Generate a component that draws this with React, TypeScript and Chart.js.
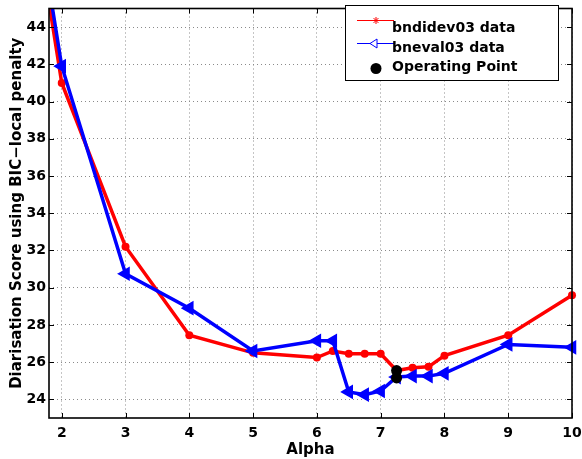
import React, { useEffect, useRef } from 'react';
import { Chart, registerables } from 'chart.js';

Chart.register(...registerables);

const seriesLabels = ['bndidev03 data', 'bneval03 data', 'Operating Point'];

const devAlpha = [1.5, 2, 3, 4, 5, 6, 6.25, 6.5, 6.75, 7, 7.25, 7.5, 7.75, 8, 9, 10];
const devScore = [51.8, 41.0, 32.2, 27.45, 26.5, 26.25, 26.6, 26.45, 26.45, 26.45, 25.55, 25.7, 25.75, 26.35, 27.45, 29.6];

const evalAlpha = [1.5, 2, 3, 4, 5, 6, 6.25, 6.5, 6.75, 7, 7.25, 7.5, 7.75, 8, 9, 10];
const evalScore = [52.6, 41.9, 30.75, 28.9, 26.6, 27.15, 27.15, 24.4, 24.25, 24.45, 25.2, 25.25, 25.25, 25.4, 26.95, 26.8];

const opAlpha = [7.25, 7.25];
const opScore = [25.55, 25.15];

const xTickValues = [2, 3, 4, 5, 6, 7, 8, 9, 10];
const yTickValues = [24, 26, 28, 30, 32, 34, 36, 38, 40, 42, 44];

const xTitle = 'Alpha';
const yTitle = 'Diarisation Score using BIC\u2212local penalty';

const FONT = 'DejaVu Sans';

const toPoints = (xs: number[], ys: number[]) => xs.map((x, i) => ({ x, y: ys[i] }));

export default function App() {
  const ref = useRef<HTMLCanvasElement>(null);

  useEffect(() => {
    if (!ref.current) return;

    const framePlugin = {
      id: 'frame',
      afterDatasetsDraw(chart: any) {
        const { ctx, chartArea: a, scales } = chart;
        ctx.save();
        ctx.strokeStyle = '#000';
        ctx.lineWidth = 1;
        ctx.beginPath();
        for (const v of xTickValues) {
          const px = Math.round(scales.x.getPixelForValue(v)) + 0.5;
          ctx.moveTo(px, a.bottom);
          ctx.lineTo(px, a.bottom - 5);
          ctx.moveTo(px, a.top);
          ctx.lineTo(px, a.top + 5);
        }
        for (const v of yTickValues) {
          const py = Math.round(scales.y.getPixelForValue(v)) + 0.5;
          ctx.moveTo(a.left, py);
          ctx.lineTo(a.left + 5, py);
          ctx.moveTo(a.right, py);
          ctx.lineTo(a.right - 5, py);
        }
        ctx.stroke();
        ctx.lineWidth = 1.6;
        ctx.strokeRect(a.left, a.top, a.right - a.left, a.bottom - a.top);
        ctx.restore();
      },
    };

    const legendPlugin = {
      id: 'matlabLegend',
      afterDraw(chart: any) {
        const { ctx } = chart;
        const ds = chart.data.datasets;
        const bx = 345, by = 5, bw = 213, bh = 75;
        ctx.save();
        ctx.fillStyle = '#fff';
        ctx.fillRect(bx, by, bw, bh);
        ctx.strokeStyle = '#000';
        ctx.lineWidth = 1;
        ctx.strokeRect(bx + 0.5, by + 0.5, bw, bh);

        ctx.font = `bold 14px "${FONT}"`;
        ctx.fillStyle = '#000';
        ctx.textBaseline = 'alphabetic';
        ctx.textAlign = 'left';
        const textX = 392;

        // row 1: red line with asterisk
        ctx.strokeStyle = '#ff0000';
        ctx.lineWidth = 1;
        ctx.beginPath();
        ctx.moveTo(357, 20.5);
        ctx.lineTo(394, 20.5);
        const cx1 = 376, cy1 = 20.5, r = 3.5;
        ctx.moveTo(cx1 - r, cy1); ctx.lineTo(cx1 + r, cy1);
        ctx.moveTo(cx1, cy1 - r); ctx.lineTo(cx1, cy1 + r);
        ctx.moveTo(cx1 - r * 0.7, cy1 - r * 0.7); ctx.lineTo(cx1 + r * 0.7, cy1 + r * 0.7);
        ctx.moveTo(cx1 - r * 0.7, cy1 + r * 0.7); ctx.lineTo(cx1 + r * 0.7, cy1 - r * 0.7);
        ctx.stroke();
        ctx.fillStyle = '#000';
        ctx.fillText(ds[0].label, textX, 31.5);

        // row 2: blue line with left triangle
        ctx.strokeStyle = '#0000ff';
        ctx.beginPath();
        ctx.moveTo(357, 43.5);
        ctx.lineTo(394, 43.5);
        ctx.stroke();
        ctx.beginPath();
        ctx.moveTo(370, 43.5);
        ctx.lineTo(377, 39);
        ctx.lineTo(377, 48);
        ctx.closePath();
        ctx.fillStyle = '#fff';
        ctx.fill();
        ctx.stroke();
        ctx.fillStyle = '#000';
        ctx.fillText(ds[1].label, textX, 52);

        // row 3: black dot
        ctx.beginPath();
        ctx.arc(376, 68.5, 5.5, 0, Math.PI * 2);
        ctx.fill();
        ctx.fillText(ds[2].label, textX, 71);
        ctx.restore();
      },
    };

    const tickFont = { family: FONT, size: 14, weight: 'bold' as const };
    const titleFont = { family: FONT, size: 15, weight: 'bold' as const };

    const chart = new Chart(ref.current, {
      type: 'line',
      data: {
        datasets: [
          {
            label: seriesLabels[0],
            data: toPoints(devAlpha, devScore),
            borderColor: '#ff0000',
            backgroundColor: '#ff0000',
            borderWidth: 3.5,
            pointRadius: 4,
            pointStyle: 'circle',
            pointBorderWidth: 0,
            order: 3,
            clip: { left: 0, top: 0, right: 10, bottom: 0 },
          },
          {
            label: seriesLabels[1],
            data: toPoints(evalAlpha, evalScore),
            borderColor: '#0000ff',
            backgroundColor: '#0000ff',
            borderWidth: 3.5,
            pointRadius: 6.5,
            pointStyle: 'triangle',
            pointRotation: -90,
            pointBorderWidth: 2,
            order: 2,
            clip: { left: 0, top: 0, right: 10, bottom: 0 },
          },
          {
            label: seriesLabels[2],
            data: toPoints(opAlpha, opScore),
            borderColor: '#000',
            backgroundColor: '#000',
            showLine: false,
            pointRadius: 5.5,
            pointBorderWidth: 0,
            order: 1,
          },
        ] as any,
      },
      options: {
        responsive: false,
        animation: false,
        parsing: false as any,
        layout: { padding: { top: 5, right: 10, left: 0, bottom: 0 } },
        plugins: {
          legend: { display: false },
          tooltip: { enabled: false },
        },
        scales: {
          x: {
            type: 'linear',
            min: 1.8,
            max: 10,
            afterBuildTicks: (s: any) => {
              s.ticks = xTickValues.map((v) => ({ value: v }));
            },
            afterFit: (s: any) => {
              s.height = 41;
              s.paddingLeft = 0;
              s.paddingRight = 0;
            },
            grid: { color: '#8a8a8a', drawTicks: false, lineWidth: 1 },
            border: { display: false, dash: [1, 3] },
            ticks: { color: '#000', font: tickFont, padding: 7, maxRotation: 0, autoSkip: false },
            title: { display: true, text: xTitle, color: '#000', font: titleFont, padding: { top: 0, bottom: 0 } },
          },
          y: {
            type: 'linear',
            min: 23,
            max: 45,
            afterBuildTicks: (s: any) => {
              s.ticks = yTickValues.map((v) => ({ value: v }));
            },
            afterFit: (s: any) => {
              s.width = 49;
              s.paddingTop = 0;
              s.paddingBottom = 0;
            },
            grid: { color: '#8a8a8a', drawTicks: false, lineWidth: 1 },
            border: { display: false, dash: [1, 3] },
            ticks: { color: '#000', font: tickFont, padding: 3, autoSkip: false },
            title: { display: true, text: yTitle, color: '#000', font: titleFont, padding: { top: 8, bottom: 0 } },
          },
        },
      } as any,
      plugins: [framePlugin, legendPlugin],
    });

    return () => chart.destroy();
  }, []);

  return (
    <div style={{ position: 'fixed', left: 0, top: 0, width: 582, height: 459, background: '#fff' }}>
      <canvas ref={ref} width={582} height={459} style={{ display: 'block', width: 582, height: 459 }} />
    </div>
  );
}
